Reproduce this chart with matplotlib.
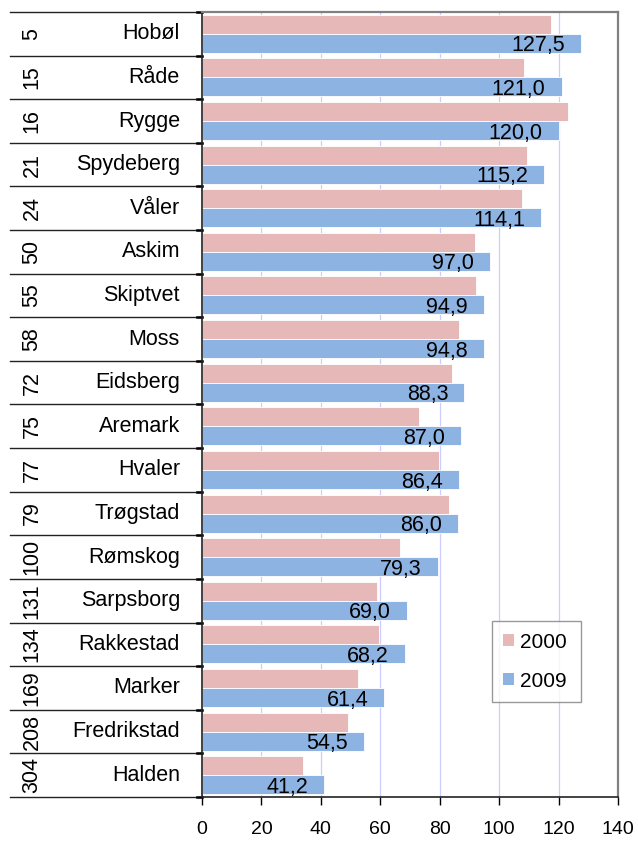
import matplotlib
matplotlib.use("Agg")
import matplotlib.pyplot as plt
from matplotlib.patches import Patch

plt.rcParams['font.family'] = ['Liberation Sans', 'DejaVu Sans']

ranks = ["5", "15", "16", "21", "24", "50", "55", "58", "72", "75", "77", "79",
         "100", "131", "134", "169", "208", "304"]
names = ["Hobøl", "Råde", "Rygge", "Spydeberg", "Våler", "Askim", "Skiptvet", "Moss",
         "Eidsberg", "Aremark", "Hvaler", "Trøgstad", "Rømskog", "Sarpsborg",
         "Rakkestad", "Marker", "Fredrikstad", "Halden"]
v2000 = [117.5, 108.2, 123.1, 109.4, 107.7, 91.8, 92.1, 86.4, 84.2, 73.1, 79.6, 83.2,
         66.8, 59.0, 59.4, 52.4, 49.2, 34.1]
v2009 = [127.5, 121.0, 120.0, 115.2, 114.1, 97.0, 94.9, 94.8, 88.3, 87.0, 86.4, 86.0,
         79.3, 69.0, 68.2, 61.4, 54.5, 41.2]
xticks = [0, 20, 40, 60, 80, 100, 120, 140]
series = ["2000", "2009"]

c2000 = "#E6B9B8"
c2009 = "#8DB3E2"

W, H = 638, 842
fig = plt.figure(figsize=(W / 100, H / 100), dpi=100)
L, R, T, B = 202, 618, 12, 797
ax = fig.add_axes([L / W, 1 - B / H, (R - L) / W, (B - T) / H])

n = len(names)
ypos = list(range(n))
h = 0.436
ax.barh([y - h / 2 for y in ypos], v2000, height=h, color=c2000, edgecolor="white",
        linewidth=0.6, zorder=2, label=series[0])
ax.barh([y + h / 2 for y in ypos], v2009, height=h, color=c2009, edgecolor="white",
        linewidth=0.6, zorder=2, label=series[1])

ax.set_xlim(0, 140)
ax.set_ylim(n - 0.5, -0.5)
ax.set_xticks(xticks)
ax.set_xticklabels([str(t) for t in xticks], fontsize=14)
ax.tick_params(axis='x', direction='out', length=6, width=1, pad=11, color='black')
ax.set_yticks([])
ax.xaxis.grid(True, color='#CCCCFF', linewidth=0.9, zorder=0)
ax.set_axisbelow(True)

for s in ['top', 'right']:
    ax.spines[s].set_color('#808080')
    ax.spines[s].set_linewidth(1.6)
for s in ['left', 'bottom']:
    ax.spines[s].set_color('#222222')
    ax.spines[s].set_linewidth(1.2)

# data labels for 2009
for y, v in zip(ypos, v2009):
    ax.annotate(f"{v:.1f}".replace('.', ','), xy=(v, y + h), xytext=(-11.5, 1.0),
                textcoords='offset points', ha='right', va='baseline', fontsize=15.5,
                zorder=3)

# left table
tr = ax.get_yaxis_transform()
x_left = (10 - L) / (R - L)
for k in range(n + 1):
    yb = k - 0.5
    ax.plot([x_left, 0], [yb, yb], transform=tr, color='#222222', lw=1.0,
            clip_on=False, zorder=1)
    ax.plot([-0.013, 0], [yb, yb], transform=tr, color='black', lw=1.8,
            clip_on=False, zorder=1)

x_name = (180 - L) / (R - L)
x_rank = (32 - L) / (R - L)
for y, nm, rk in zip(ypos, names, ranks):
    ax.text(x_name, y, nm, transform=tr, ha='right', va='center', fontsize=15.5)
    ax.text(x_rank, y, rk, transform=tr, ha='center', va='center', fontsize=15.5,
            rotation=90)

handles = [Patch(facecolor=c2000, edgecolor='none'), Patch(facecolor=c2009, edgecolor='none')]
leg = ax.legend(handles, series, loc='lower left',
                bbox_to_anchor=((492 - L) / (R - L), (B - 702) / (B - T),
                                (581 - 492) / (R - L), (702 - 621) / (B - T)),
                mode='expand', fontsize=15, frameon=True, fancybox=False,
                edgecolor='#808080', handlelength=0.5, handleheight=0.5,
                handletextpad=0.3, labelspacing=0.95, borderpad=0.55, borderaxespad=0)
leg.get_frame().set_linewidth(1.0)

fig.savefig("out.png", dpi=100)
